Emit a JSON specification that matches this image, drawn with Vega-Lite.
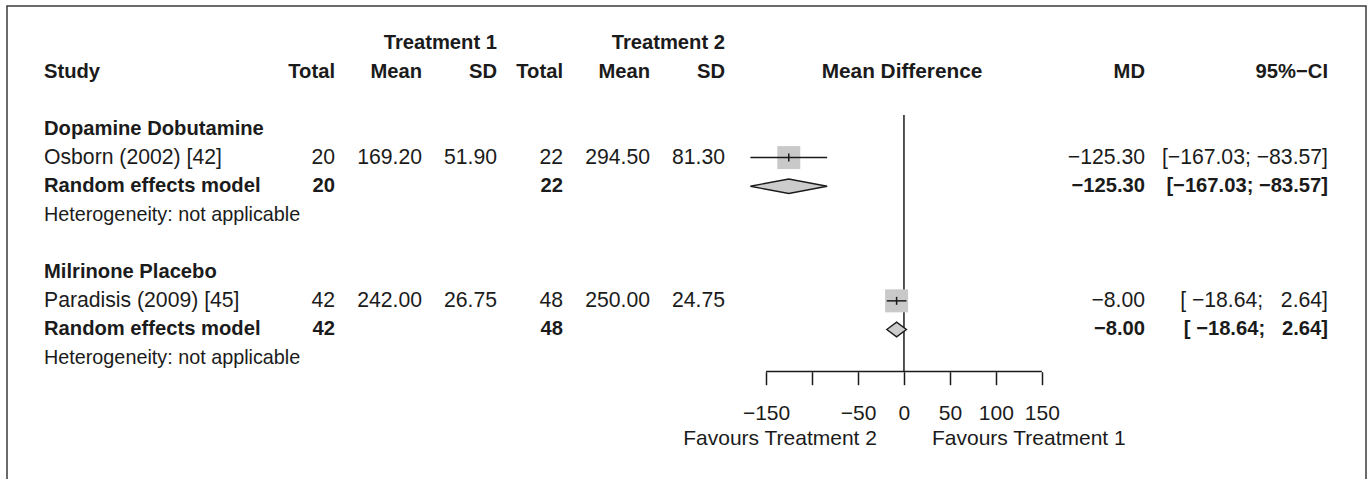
{
  "$schema": "https://vega.github.io/schema/vega-lite/v6.json",
  "width": 1359,
  "height": 475,
  "autosize": {"type": "none"},
  "padding": {"left": 7, "top": 6, "right": 4, "bottom": -2},
  "background": "white",
  "config": {
    "view": {"stroke": "#3a3a3a", "strokeWidth": 1.5},
    "text": {"font": "Liberation Sans", "fontSize": 21.2, "color": "#1b1b1b", "baseline": "middle"}
  },
  "datasets": {
    "table": [
      {"row": 0, "col": 3, "kind": "header", "text": "Treatment 1"},
      {"row": 0, "col": 6, "kind": "header", "text": "Treatment 2"},
      {"row": 1, "col": 0, "kind": "header", "text": "Study"},
      {"row": 1, "col": 1, "kind": "header", "text": "Total"},
      {"row": 1, "col": 2, "kind": "header", "text": "Mean"},
      {"row": 1, "col": 3, "kind": "header", "text": "SD"},
      {"row": 1, "col": 4, "kind": "header", "text": "Total"},
      {"row": 1, "col": 5, "kind": "header", "text": "Mean"},
      {"row": 1, "col": 6, "kind": "header", "text": "SD"},
      {"row": 1, "col": 7, "kind": "header", "text": "Mean Difference"},
      {"row": 1, "col": 8, "kind": "header", "text": "MD"},
      {"row": 1, "col": 9, "kind": "header", "text": "95%−CI"},
      {"row": 3, "col": 0, "kind": "group", "text": "Dopamine Dobutamine"},
      {"row": 4, "col": 0, "kind": "study", "text": "Osborn (2002) [42]"},
      {"row": 4, "col": 1, "kind": "study", "text": "20"},
      {"row": 4, "col": 2, "kind": "study", "text": "169.20"},
      {"row": 4, "col": 3, "kind": "study", "text": "51.90"},
      {"row": 4, "col": 4, "kind": "study", "text": "22"},
      {"row": 4, "col": 5, "kind": "study", "text": "294.50"},
      {"row": 4, "col": 6, "kind": "study", "text": "81.30"},
      {"row": 4, "col": 8, "kind": "study", "text": "−125.30"},
      {"row": 4, "col": 9, "kind": "study", "text": "[−167.03; −83.57]"},
      {"row": 5, "col": 0, "kind": "pooled", "text": "Random effects model"},
      {"row": 5, "col": 1, "kind": "pooled", "text": "20"},
      {"row": 5, "col": 4, "kind": "pooled", "text": "22"},
      {"row": 5, "col": 8, "kind": "pooled", "text": "−125.30"},
      {"row": 5, "col": 9, "kind": "pooled", "text": "[−167.03; −83.57]"},
      {"row": 6, "col": 0, "kind": "het", "text": "Heterogeneity: not applicable"},
      {"row": 8, "col": 0, "kind": "group", "text": "Milrinone Placebo"},
      {"row": 9, "col": 0, "kind": "study", "text": "Paradisis (2009) [45]"},
      {"row": 9, "col": 1, "kind": "study", "text": "42"},
      {"row": 9, "col": 2, "kind": "study", "text": "242.00"},
      {"row": 9, "col": 3, "kind": "study", "text": "26.75"},
      {"row": 9, "col": 4, "kind": "study", "text": "48"},
      {"row": 9, "col": 5, "kind": "study", "text": "250.00"},
      {"row": 9, "col": 6, "kind": "study", "text": "24.75"},
      {"row": 9, "col": 8, "kind": "study", "text": "−8.00"},
      {"row": 9, "col": 9, "kind": "study", "text": "[\u00a0−18.64;\u00a0\u00a0\u00a02.64]"},
      {"row": 10, "col": 0, "kind": "pooled", "text": "Random effects model"},
      {"row": 10, "col": 1, "kind": "pooled", "text": "42"},
      {"row": 10, "col": 4, "kind": "pooled", "text": "48"},
      {"row": 10, "col": 8, "kind": "pooled", "text": "−8.00"},
      {"row": 10, "col": 9, "kind": "pooled", "text": "[\u00a0−18.64;\u00a0\u00a0\u00a02.64]"},
      {"row": 11, "col": 0, "kind": "het", "text": "Heterogeneity: not applicable"}
    ],
    "studies": [
      {"study": "Osborn (2002) [42]", "row": 4, "md": -125.3, "lo": -167.03, "hi": -83.57},
      {"study": "Paradisis (2009) [45]", "row": 9, "md": -8.0, "lo": -18.64, "hi": 2.64}
    ],
    "pooled": [
      {"group": "Dopamine Dobutamine", "row": 5, "md": -125.3, "lo": -167.03, "hi": -83.57},
      {"group": "Milrinone Placebo", "row": 10, "md": -8.0, "lo": -18.64, "hi": 2.64}
    ],
    "favours": [
      {"side": "left", "label": "Favours Treatment 2"},
      {"side": "right", "label": "Favours Treatment 1"}
    ]
  },
  "layer": [
    {
      "data": {"name": "table"},
      "encoding": {
        "x": {"field": "col", "type": "quantitative", "axis": null,
              "scale": {"domain": [0, 1, 2, 3, 4, 5, 6, 7, 8, 9],
                        "range": [37, 328, 415, 490, 556, 643, 718, 895, 1138, 1321],
                        "nice": false, "zero": false}},
        "y": {"field": "row", "type": "quantitative", "axis": null,
              "scale": {"domain": [-1.2914, 15.288], "reverse": true, "nice": false, "zero": false}},
        "text": {"field": "text", "type": "nominal"}
      },
      "layer": [
        {"transform": [{"filter": "datum.col == 0 && (datum.kind == 'header' || datum.kind == 'group' || datum.kind == 'pooled')"}],
         "mark": {"type": "text", "align": "left", "fontWeight": "bold", "fontSize": 20.2}},
        {"transform": [{"filter": "datum.col == 0 && datum.kind == 'study'"}],
         "mark": {"type": "text", "align": "left"}},
        {"transform": [{"filter": "datum.kind == 'het'"}],
         "mark": {"type": "text", "align": "left", "fontSize": 19.8}},
        {"transform": [{"filter": "datum.col != 0 && datum.col != 7 && (datum.kind == 'header' || datum.kind == 'pooled')"}],
         "mark": {"type": "text", "align": "right", "fontWeight": "bold", "fontSize": 20.2}},
        {"transform": [{"filter": "datum.col != 0 && datum.kind == 'study'"}],
         "mark": {"type": "text", "align": "right"}},
        {"transform": [{"filter": "datum.col == 7"}],
         "mark": {"type": "text", "align": "center", "fontWeight": "bold", "fontSize": 20.8}}
      ]
    },
    {
      "layer": [
        {
          "data": {"values": [{"md": 0}]},
          "mark": {"type": "rule", "color": "#1b1b1b", "strokeWidth": 1.5},
          "encoding": {
            "x": {"field": "md", "type": "quantitative",
                  "scale": {"domain": [-975.7, 502.6], "nice": false, "zero": false},
                  "axis": {"values": [-150, -100, -50, 0, 50, 100, 150],
                           "labelExpr": "datum.value == -100 ? '' : datum.label",
                           "domain": false, "grid": false, "tickSize": 13, "tickWidth": 1.5,
                           "tickColor": "#1b1b1b", "labelColor": "#1b1b1b",
                           "labelFont": "Liberation Sans", "labelFontSize": 21,
                           "labelPadding": 18, "offset": -109.3, "labelOverlap": false,
                           "labelFlush": false, "title": null}},
            "y": {"datum": 2.51, "type": "quantitative",
                  "scale": {"domain": [-1.2914, 15.288], "reverse": true, "nice": false, "zero": false}},
            "y2": {"datum": 11.47}
          }
        },
        {
          "data": {"values": [{"from": -150, "to": 150}]},
          "mark": {"type": "rule", "color": "#1b1b1b", "strokeWidth": 1.5},
          "encoding": {
            "x": {"field": "from", "type": "quantitative", "title": null},
            "x2": {"field": "to"},
            "y": {"datum": 11.47, "type": "quantitative",
                  "scale": {"domain": [-1.2914, 15.288], "reverse": true, "nice": false, "zero": false}}
          }
        },
        {
          "data": {"name": "studies"},
          "mark": {"type": "point", "shape": "square", "filled": true, "size": 529, "color": "#c9c9c9", "opacity": 1, "strokeWidth": 0},
          "encoding": {
            "x": {"field": "md", "type": "quantitative", "title": null},
            "y": {"field": "row", "type": "quantitative",
                  "scale": {"domain": [-1.2914, 15.288], "reverse": true, "nice": false, "zero": false}}
          }
        },
        {
          "data": {"name": "studies"},
          "mark": {"type": "rule", "color": "#1b1b1b", "strokeWidth": 1.5},
          "encoding": {
            "x": {"field": "lo", "type": "quantitative", "title": null},
            "x2": {"field": "hi"},
            "y": {"field": "row", "type": "quantitative",
                  "scale": {"domain": [-1.2914, 15.288], "reverse": true, "nice": false, "zero": false}}
          }
        },
        {
          "data": {"name": "studies"},
          "mark": {"type": "point", "shape": "M0,-1L0,1", "filled": false, "size": 64, "color": "#1b1b1b", "opacity": 1, "strokeWidth": 1.5},
          "encoding": {
            "x": {"field": "md", "type": "quantitative", "title": null},
            "y": {"field": "row", "type": "quantitative",
                  "scale": {"domain": [-1.2914, 15.288], "reverse": true, "nice": false, "zero": false}}
          }
        },
        {
          "data": {"name": "pooled"},
          "mark": {"type": "point", "filled": true, "size": 4, "fill": "#cccccc", "stroke": "#1b1b1b", "strokeWidth": 1.4, "opacity": 1, "fillOpacity": 1, "strokeOpacity": 1},
          "encoding": {
            "x": {"field": "md", "type": "quantitative", "title": null},
            "y": {"field": "row", "type": "quantitative",
                  "scale": {"domain": [-1.2914, 15.288], "reverse": true, "nice": false, "zero": false}},
            "shape": {"field": "group", "type": "nominal", "legend": null,
                      "scale": {"domain": ["Dopamine Dobutamine", "Milrinone Placebo"],
                                "range": ["M-38.4,0L0,-7.3L38.4,0L0,7.3Z", "M-9.8,0L0,-7.3L9.8,0L0,7.3Z"]}}
          }
        },
        {
          "data": {"name": "favours"},
          "transform": [{"filter": "datum.side == 'left'"}],
          "mark": {"type": "text", "align": "right", "dx": -27, "fontSize": 21},
          "encoding": {
            "x": {"datum": 0, "type": "quantitative"},
            "y": {"datum": 13.82, "type": "quantitative",
                  "scale": {"domain": [-1.2914, 15.288], "reverse": true, "nice": false, "zero": false}},
            "text": {"field": "label"}
          }
        },
        {
          "data": {"name": "favours"},
          "transform": [{"filter": "datum.side == 'right'"}],
          "mark": {"type": "text", "align": "left", "dx": 28, "fontSize": 21},
          "encoding": {
            "x": {"datum": 0, "type": "quantitative"},
            "y": {"datum": 13.82, "type": "quantitative",
                  "scale": {"domain": [-1.2914, 15.288], "reverse": true, "nice": false, "zero": false}},
            "text": {"field": "label"}
          }
        }
      ]
    }
  ],
  "resolve": {"scale": {"x": "independent"}, "axis": {"x": "independent"}}
}
